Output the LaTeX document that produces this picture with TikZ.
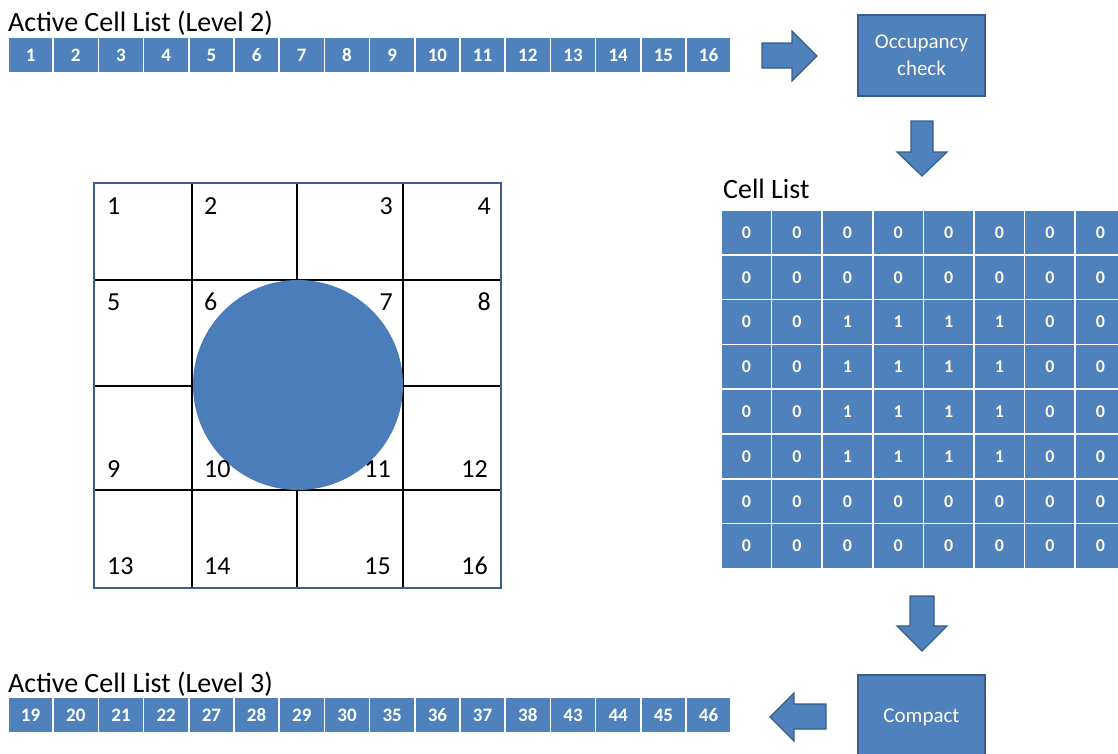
\documentclass[tikz,border=0pt]{standalone}
\usepackage{fontspec}
\setmainfont{Carlito}
\definecolor{blu}{HTML}{4F81BD}
\definecolor{circblu}{HTML}{4A7DBA}
\definecolor{bluedge}{HTML}{385D8A}
\definecolor{cream}{HTML}{FFF8EC}
\definecolor{gridedge}{HTML}{3B5E8C}
\tikzset{
  listcell/.style={rectangle, fill=blu, draw=white, line width=1.5pt, minimum width=45.2pt, minimum height=35pt, inner sep=0pt, text=white, font=\bfseries\fontsize{19}{19}\selectfont},
  matcell/.style={rectangle, fill=blu, draw=white, line width=1.5pt, minimum width=50.6pt, minimum height=44.8pt, inner sep=0pt, text=cream, font=\bfseries\fontsize{18}{18}\selectfont},
  procbox/.style={rectangle, fill=blu, draw=bluedge, line width=1.2pt, minimum width=127pt, inner sep=0pt, text=cream, align=center, font=\fontsize{21}{27}\selectfont},
  blockarrow/.style={fill=blu, draw=bluedge, line width=1.2pt, line join=miter},
  title/.style={anchor=base west, inner sep=0pt, font=\fontsize{28}{28}\selectfont},
  gridnum/.style={inner sep=0pt, font=\fontsize{26}{26}\selectfont},
  gridline/.style={line width=2pt, black}
}
\begin{document}
\begin{tikzpicture}[x=1pt,y=-1pt]
\useasboundingbox (0,0) rectangle (1118,753);
\clip (0,0) rectangle (1118,753);

% titles
\node[title] (t2) at (8,31) {Active Cell List (Level 2)};
\node[title] (t3) at (8,692) {Active Cell List (Level 3)};
\node[title] (tc) at (723,198) {Cell List};

% level 2 list
\foreach \i in {1,...,16} {
  \node[listcell] (a\i) at ({8+45.2*(\i-0.5)},55) {\i};
}
% level 3 list
\foreach \v [count=\i] in {19,20,21,22,27,28,29,30,35,36,37,38,43,44,45,46} {
  \node[listcell] (b\i) at ({8+45.2*(\i-0.5)},715) {\v};
}

% process boxes
\node[procbox, minimum height=81pt] (occ) at (921.5,55.5) {Occupancy\\check};
\node[procbox, minimum height=84pt] (cmp) at (921.5,717) {Compact};

% block arrows
\draw[blockarrow] (762,43) -- (792,43) -- (792,31) -- (817,56) -- (792,81) -- (792,68) -- (762,68) -- cycle;
\draw[blockarrow] (911,121) -- (933,121) -- (933,152) -- (947,152) -- (922,176) -- (897,152) -- (911,152) -- cycle;
\draw[blockarrow] (910,596) -- (934,596) -- (934,626) -- (947,626) -- (922,651) -- (897,626) -- (910,626) -- cycle;
\draw[blockarrow] (826,704) -- (794,704) -- (794,693) -- (770,717) -- (794,741) -- (794,729) -- (826,729) -- cycle;

% cell list matrix
\foreach \r in {0,...,7} {
  \foreach \c in {0,...,7} {
    \pgfmathtruncatemacro{\val}{(\r>1 && \r<6 && \c>1 && \c<6) ? 1 : 0}
    \node[matcell] (m\r\c) at ({721+50.6*(\c+0.5)},{210+44.8*(\r+0.5)}) {\val};
  }
}

% left grid
\draw[gridline] (192,183) -- (192,588);
\draw[gridline] (297,183) -- (297,588);
\draw[gridline] (403,183) -- (403,588);
\draw[gridline] (94,280) -- (501,280);
\draw[gridline] (94,386) -- (501,386);
\draw[gridline] (94,490) -- (501,490);
\draw[gridedge, line width=1.6pt] (94,183) rectangle (501,588);
\fill[circblu] (298,385) circle[radius=105];

% grid numbers
\node[gridnum, anchor=west] (g1) at (107,206) {1};
\node[gridnum, anchor=west] (g2) at (204,206) {2};
\node[gridnum, anchor=east] (g3) at (393,206) {3};
\node[gridnum, anchor=east] (g4) at (491,206) {4};
\node[gridnum, anchor=west] (g5) at (107,302) {5};
\node[gridnum, anchor=west] (g6) at (204,302) {6};
\node[gridnum, anchor=east] (g7) at (393,302) {7};
\node[gridnum, anchor=east] (g8) at (491,302) {8};
\node[gridnum, anchor=west] (g9) at (107,469) {9};
\node[gridnum, anchor=west] (g10) at (204,469) {10};
\node[gridnum, anchor=east] (g11) at (391,469) {11};
\node[gridnum, anchor=east] (g12) at (488,469) {12};
\node[gridnum, anchor=west] (g13) at (107,566) {13};
\node[gridnum, anchor=west] (g14) at (204,566) {14};
\node[gridnum, anchor=east] (g15) at (391,566) {15};
\node[gridnum, anchor=east] (g16) at (488,566) {16};
\end{tikzpicture}
\end{document}
